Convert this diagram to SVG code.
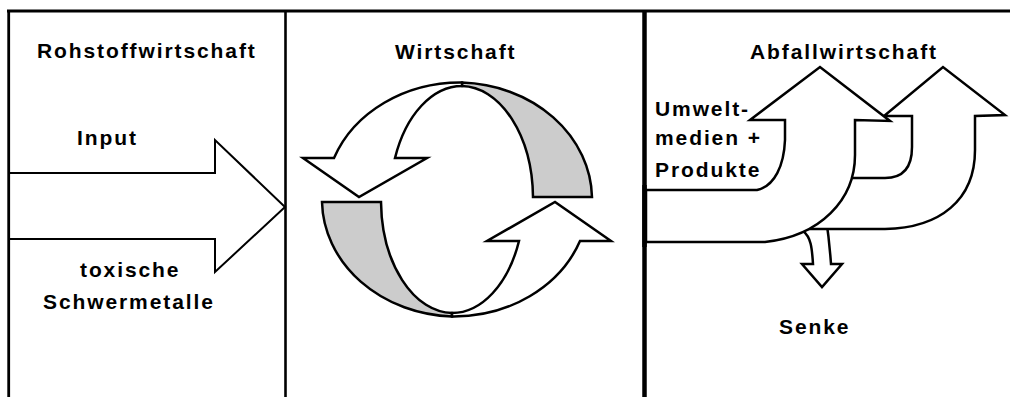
<svg xmlns="http://www.w3.org/2000/svg" width="1010" height="397" viewBox="0 0 1010 397">
<style>
.t{font-family:"Liberation Sans",Arial,sans-serif;font-weight:bold;font-size:21px;letter-spacing:1.9px;fill:#000}
.frame{stroke:#000;fill:none}
.sh{stroke:#000;stroke-width:2.5;stroke-linejoin:miter}
.w{fill:#fff}
.g{fill:#cccccc}
</style>
<rect width="1010" height="397" fill="#fff"/>
<g id="frame">
<line class="frame" x1="7" y1="11" x2="1010" y2="11" stroke-width="3"/>
<line class="frame" x1="8.7" y1="10" x2="8.7" y2="397" stroke-width="2.8"/>
<line class="frame" x1="285.5" y1="10" x2="285.5" y2="397" stroke-width="2.6"/>
<line class="frame" x1="644.5" y1="10" x2="644.5" y2="397" stroke-width="4.5"/>
</g>
<g id="rohstoff">
<text class="t" x="37" y="58">Rohstoffwirtschaft</text>
</g>
<g id="input-arrow">
<path d="M8,173 L215,173 L215,140 L285,207 L215,272 L215,239 L8,239" fill="none" stroke="#000" stroke-width="2"/>
<text class="t" x="77" y="145">Input</text>
<text class="t" x="80" y="277">toxische</text>
<text class="t" x="43" y="309">Schwermetalle</text>
</g>
<g id="wirtschaft">
<text class="t" x="395" y="59">Wirtschaft</text>
</g>
<g id="cycle">
<g id="cycle-top">
<path class="sh g" d="M462,82.5 A135,117 0 0 1 592,197 L533,197 A72,113 0 0 0 462,86 Z"/>
<path class="sh w" d="M462,82.5 A135,117 0 0 0 334,158 L303,158 L359,197 L427,158 L395,158 A72,113 0 0 1 462,86 Z"/>
</g>
<g id="cycle-bottom" transform="rotate(180 457 199.5)">
<path class="sh g" d="M462,82.5 A135,117 0 0 1 592,197 L533,197 A72,113 0 0 0 462,86 Z"/>
<path class="sh w" d="M462,82.5 A135,117 0 0 0 334,158 L303,158 L359,197 L427,158 L395,158 A72,113 0 0 1 462,86 Z"/>
</g>
</g>
<g id="abfall">
<text class="t" x="750" y="59">Abfallwirtschaft</text>
</g>
<g id="connectors">
<path id="senke-arrow" class="sh w" d="M803,218 L803,231 C811,237 812,248 813,264 L802,264 L822,287 L842,264 L831,264 C830,250 829,238 826,218 Z"/>
<path id="arrow2" class="sh w" d="M780,178 L885,178 C905,178 912,165 912,147 L912,116 L884,116 L943,67 L1005,115 L975,116 L975,150 C975,200 940,228 885,229 L780,229 Z"/>
<path id="arrow1" class="sh w" d="M646,190 L757,190 C775,186 784,165 785,140 L785,120 L750,120 L820,67 L890,121 L855,120 L855,155 C855,200 820,236 765,242 L646,242 Z"/>
<line x1="644.5" y1="185" x2="644.5" y2="247" stroke="#000" stroke-width="4.5"/>
</g>
<g id="labels-right">
<text class="t" x="655" y="116">Umwelt-</text>
<text class="t" x="655" y="145">medien +</text>
<text class="t" x="655" y="177">Produkte</text>
<text class="t" x="779" y="334">Senke</text>
</g>
</svg>
